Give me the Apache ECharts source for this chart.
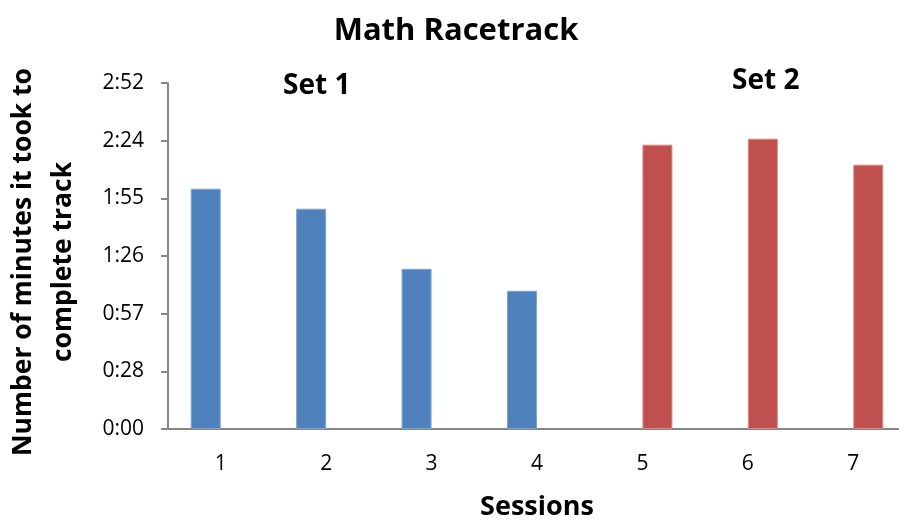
<!DOCTYPE html>
<html>
<head>
<meta charset="utf-8">
<script src="https://cdn.jsdelivr.net/npm/echarts@6/dist/echarts.min.js"></script>
<style>
html, body { margin: 0; padding: 0; background: #fff; }
#main { width: 899px; height: 523px; }
</style>
</head>
<body>
<div id="main"></div>
<script>
// sessions on the x axis
var sessions = ['1', '2', '3', '4', '5', '6', '7'];
// seconds to complete the track
var set1 = [120, 110, 80, 69, null, null, null];
var set2 = [null, null, null, null, 142, 145, 132];
// y axis: excel time steps of 28.8 s
var yMin = 0;
var yMax = 172.8;
var yStep = 28.8;

var font = '"Open Sans", "Noto Sans", sans-serif';

// m:ss like excel (truncated)
var fmtTime = function(v) {
	var s = Math.floor(Math.round(v * 10) / 10);
	var m = Math.floor(s / 60);
	var r = s % 60;
	return m + ':' + (r < 10 ? '0' + r : r);
};

var myChart = echarts.init(document.getElementById('main'));
var option = {
	animation: false,
	title: {
		text: 'Math Racetrack',
		left: 451,
		top: 11,
		textAlign: 'center',
		textStyle: { fontFamily: font, fontSize: 31, fontWeight: 'bold', color: '#000' }
	},
	grid: {
		left: 168,
		top: 83,
		width: 738,
		height: 346,
		containLabel: false,
		outerBoundsMode: 'none'
	},
	xAxis: {
		type: 'category',
		data: sessions,
		name: 'Sessions',
		nameLocation: 'middle',
		nameGap: 65,
		nameTextStyle: { fontFamily: font, fontSize: 27, fontWeight: 'bold', color: '#000' },
		axisLine: { lineStyle: { color: '#868686', width: 2 } },
		axisTick: { alignWithLabel: true, length: 6, lineStyle: { color: '#868686', width: 2 } },
		axisLabel: { fontFamily: font, fontSize: 21, color: '#000', margin: 25 }
	},
	yAxis: {
		type: 'value',
		min: yMin,
		max: yMax,
		interval: yStep,
		name: 'Number of minutes it took to\ncomplete track',
		nameLocation: 'middle',
		nameGap: 85,
		nameTextStyle: {
			fontFamily: font, fontSize: 26.5, fontWeight: 'bold', color: '#000',
			lineHeight: 40, padding: [0, 12, 0, 0]
		},
		axisLine: { show: true, lineStyle: { color: '#868686', width: 2 } },
		axisTick: { show: true, length: 7, lineStyle: { color: '#868686', width: 2 } },
		splitLine: { show: false },
		axisLabel: { fontFamily: font, fontSize: 21, color: '#000', margin: 24, formatter: fmtTime }
	},
	series: [
		{
			name: 'Set 1',
			type: 'bar',
			data: set1,
			barWidth: 30,
			barGap: '0%',
			itemStyle: { color: '#4F81BD', borderColor: '#7fa3d1', borderWidth: 1 }
		},
		{
			name: 'Set 2',
			type: 'bar',
			data: set2,
			barWidth: 30,
			barGap: '0%',
			itemStyle: { color: '#C0504D', borderColor: '#d88a88', borderWidth: 1 }
		}
	],
	graphic: [
		{
			type: 'text',
			left: 283,
			top: 72,
			style: { text: 'Set 1', font: 'bold 28px ' + font, fill: '#000' }
		},
		{
			type: 'text',
			left: 732,
			top: 67,
			style: { text: 'Set 2', font: 'bold 28px ' + font, fill: '#000' }
		}
	]
};
myChart.setOption(option);
</script>
</body>
</html>
